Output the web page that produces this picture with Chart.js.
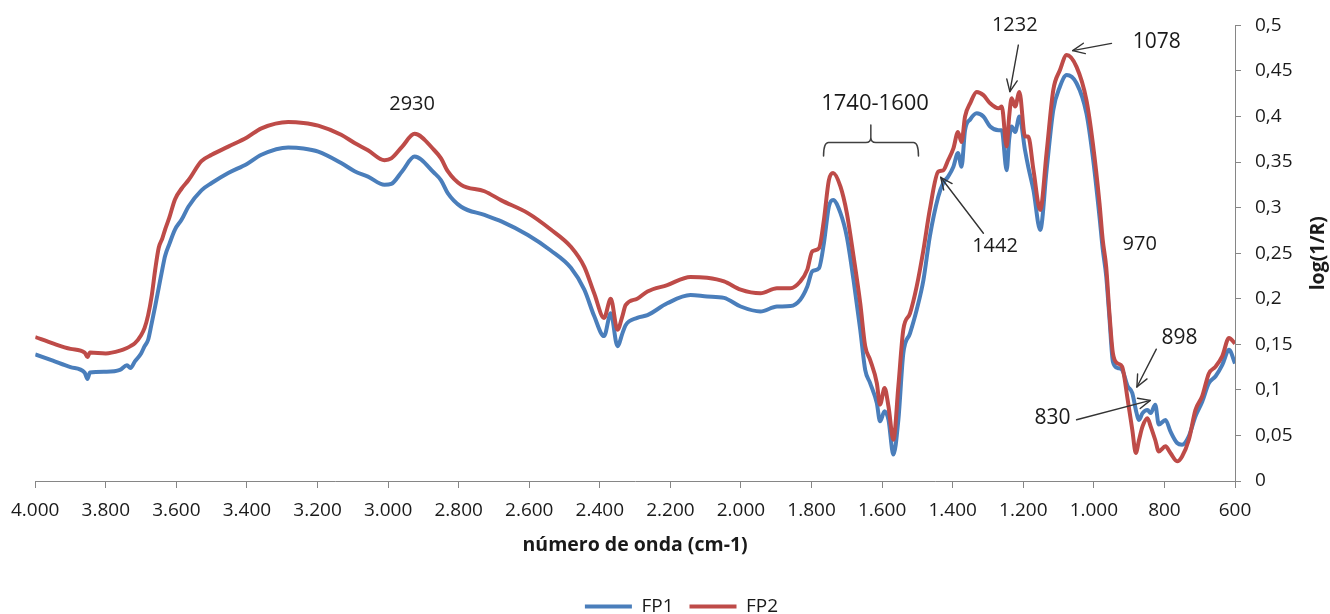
<!DOCTYPE html>
<html>
<head>
<meta charset="utf-8">
<script src="https://cdn.jsdelivr.net/npm/chart.js@4.4.1/dist/chart.umd.min.js"></script>
<style>
  html, body { margin: 0; padding: 0; background: #ffffff; }
  #wrap { width: 1330px; height: 614px; }
</style>
</head>
<body>
<div id="wrap"><canvas id="spectrum" width="1330" height="614"></canvas></div>
<script>
// Wavenumber grid (cm-1), shared by both spectra
const wavenumbers = [
  4000,3950,3900,3860,3852,3845,3800,3760,3740,3730,
  3718,3700,3690,3680,3670,3660,3650,3640,3632,3620,
  3604,3585,3566,3529,3500,3453,3400,3359,3283,3240,3198,
  3133,3095,3057,3010,2991,2960,2925,2869,2850,2831,
  2793,2727,2679,2604,2539,2482,2444,2416,2388,2369,
  2350,2336,2327,2294,2265,2209,2143,2096,2048,2001,
  1945,1898,1860,1832,1812,1798,1779,1765,1751,1739,
  1718,1700,1681,1662,1648,1634,1615,1606,1593,1582,
  1568,1554,1540,1521,1502,1483,1465,1441,1427,1413,
  1398,1385,1375,1365,1350,1332,1313,1294,1270,1261,
  1247,1240,1233,1223,1211,1195,1186,1171,1152,1134,
  1115,1096,1077,1049,1021,1003,984,975,965,956,
  946,932,920,904,891,881,872,862,848,839,
  826,816,797,783,764,750,731,712,693,674,
  655,636,617,600
];

// log(1/R) for sample FP1
const fp1 = [
  .139,.132,.125,.119,.112,.119,.120,.122,.127,.124,
  .131,.140,.148,.155,.173,.192,.212,.232,.247,.260,
  .276,.287,.301,.319,.327,.338,.348,.358,.366,.365,.3615,
  .349,.340,.334,.325,.326,.340,.356,.338,.330,.316,
  .301,.292,.285,.270,.253,.234,.210,.181,.159,.184,
  .148,.162,.171,.179,.182,.195,.204,.2025,.201,.1915,
  .186,.1915,.192,.199,.2135,.230,.2335,.261,.301,.3085,
  .294,.268,.2205,.166,.122,.1075,.0855,.0655,.0765,.067,
  .029,.067,.140,.162,.188,.2205,.268,.312,.327,.334,
  .345,.360,.345,.385,.397,.4035,.400,.389,.385,.385,
  .341,.375,.389,.383,.400,.363,.345,.319,.2755,.341,
  .407,.433,.4455,.4365,.4035,.356,.290,.255,.225,.180,
  .131,.124,.122,.104,.0965,.078,.067,.0745,.078,.0745,
  .0837,.062,.067,.0545,.0417,.0398,.049,.071,.087,.1075,
  .115,.1275,.144,.129
];

// log(1/R) for sample FP2
const fp2 = [
  .158,.151,.145,.141,.136,.141,.140,.143,.146,.148,
  .151,.160,.168,.182,.203,.232,.256,.266,.276,.289,
  .309,.321,.330,.351,.358,.367,.377,.387,.394,.393,.390,
  .380,.371,.363,.352,.354,.367,.381,.363,.354,.340,
  .325,.318,.308,.294,.276,.257,.235,.206,.179,.200,
  .166,.181,.193,.200,.208,.215,.224,.223,.219,.210,
  .206,.2115,.2115,.219,.232,.252,.2555,.2865,.330,.338,
  .323,.294,.2465,.195,.148,.133,.1075,.0837,.102,.082,
  .0453,.104,.166,.184,.2135,.2535,.2975,.3395,.341,.352,
  .365,.383,.372,.400,.415,.427,.4235,.4145,.409,.411,
  .367,.400,.420,.411,.427,.378,.378,.341,.2975,.360,
  .429,.451,.4675,.4545,.418,.371,.305,.265,.235,.185,
  .140,.129,.1255,.089,.056,.0307,.045,.060,.069,.060,
  .045,.0325,.038,.0307,.0216,.027,.045,.078,.093,.118,
  .1255,.137,.157,.151
];

// Band labels placed in data coordinates [wavenumber, log(1/R)]
const bandLabels = [
  { text: '2930',      at: [2932, 0.4134], size: 20 },
  { text: '1740-1600', at: [1620, 0.4145], size: 22 },
  { text: '1232',      at: [1224, 0.5000], size: 20 },
  { text: '1078',      at: [822,  0.4814], size: 21 },
  { text: '1442',      at: [1280, 0.2577], size: 20 },
  { text: '970',       at: [870,  0.2599], size: 20 },
  { text: '898',       at: [757,  0.1568], size: 21 },
  { text: '830',       at: [1117, 0.0691], size: 21 }
];

// Arrows from a label towards its band
const pointers = [
  { from: [1214, 0.4784], to: [1238, 0.4273] },
  { from: [950,  0.4803], to: [1060, 0.4723] },
  { from: [1313, 0.2719], to: [1434, 0.3333] },
  { from: [823,  0.1447], to: [878,  0.1031] },
  { from: [1049, 0.0672], to: [840,  0.0885] }
];

// Brace grouping the 1740-1600 region
const brace = { left: 1766, right: 1497, mid: 1632, foot: 0.3567, bar: 0.3714, tip: 0.3907 };

const fmtWavenumber = (v) => {
  if (v >= 1000) {
    const k = Math.floor(v / 1000);
    return k + '.' + String(v % 1000).padStart(3, '0');
  }
  return String(v);
};
const fmtDecimal = (v) => String(Number(v.toFixed(2))).replace('.', ',');

const FONT = '"Open Sans", "Liberation Sans", sans-serif';
const AXIS = '#868686';
const INK = '#1a1a1a';

const annotations = {
  id: 'spectrumNotes',
  afterDatasetsDraw(chart) {
    const { ctx, scales: { x, y }, chartArea } = chart;
    const px = (w) => x.getPixelForValue(w);
    const py = (v) => y.getPixelForValue(v);
    ctx.save();

    // band labels
    ctx.fillStyle = INK;
    ctx.textAlign = 'center';
    ctx.textBaseline = 'middle';
    bandLabels.forEach((l) => {
      ctx.font = l.size + 'px ' + FONT;
      ctx.fillText(l.text, px(l.at[0]), py(l.at[1]));
    });

    // arrows with open heads
    ctx.strokeStyle = '#333333';
    ctx.lineWidth = 1.4;
    ctx.lineCap = 'round';
    ctx.lineJoin = 'round';
    pointers.forEach((a) => {
      const x1 = px(a.from[0]), y1 = py(a.from[1]);
      const x2 = px(a.to[0]), y2 = py(a.to[1]);
      ctx.beginPath();
      ctx.moveTo(x1, y1);
      ctx.lineTo(x2, y2);
      ctx.stroke();
      const ang = Math.atan2(y2 - y1, x2 - x1);
      const len = 13, spread = 0.42;
      ctx.beginPath();
      ctx.moveTo(x2 - len * Math.cos(ang - spread), y2 - len * Math.sin(ang - spread));
      ctx.lineTo(x2, y2);
      ctx.lineTo(x2 - len * Math.cos(ang + spread), y2 - len * Math.sin(ang + spread));
      ctx.stroke();
    });

    // brace
    const bl = px(brace.left), br = px(brace.right), bm = px(brace.mid);
    const yf = py(brace.foot), yb = py(brace.bar), yt = py(brace.tip);
    ctx.strokeStyle = '#404040';
    ctx.lineWidth = 1.5;
    ctx.beginPath();
    ctx.moveTo(bl, yf);
    ctx.quadraticCurveTo(bl, yb, bl + 5, yb);
    ctx.lineTo(bm - 5, yb);
    ctx.quadraticCurveTo(bm, yb, bm, yb - 5);
    ctx.lineTo(bm, yt);
    ctx.moveTo(bm, yb - 5);
    ctx.quadraticCurveTo(bm, yb, bm + 5, yb);
    ctx.lineTo(br - 5, yb);
    ctx.quadraticCurveTo(br, yb, br, yf);
    ctx.stroke();

    // value axis title, reading upwards
    ctx.fillStyle = INK;
    ctx.font = 'bold 19.5px ' + FONT;
    ctx.translate(y.right - 12, (chartArea.top + chartArea.bottom) / 2);
    ctx.rotate(-Math.PI / 2);
    ctx.fillText('log(1/R)', 0, 0);
    ctx.restore();
  }
};

const series = (values) => wavenumbers.map((w, i) => ({ x: w, y: values[i] }));

new Chart(document.getElementById('spectrum'), {
  type: 'line',
  data: {
    datasets: [
      { label: 'FP1', data: series(fp1), borderColor: '#4A7EBB', backgroundColor: '#4A7EBB',
        borderWidth: 4, pointRadius: 0, cubicInterpolationMode: 'monotone', fill: false, order: 1,
        borderJoinStyle: 'round', pointStyle: 'line' },
      { label: 'FP2', data: series(fp2), borderColor: '#BE4B48', backgroundColor: '#BE4B48',
        borderWidth: 4, pointRadius: 0, cubicInterpolationMode: 'monotone', fill: false, order: 0,
        borderJoinStyle: 'round', pointStyle: 'line' }
    ]
  },
  options: {
    responsive: false,
    animation: false,
    events: [],
    layout: { padding: { left: 33, top: 22, right: 0, bottom: -12 } },
    scales: {
      x: {
        type: 'linear',
        reverse: true,
        min: 600,
        max: 4000,
        afterFit: (s) => { s.height = 100; },
        ticks: {
          stepSize: 200,
          color: INK,
          padding: 11,
          maxRotation: 0,
          autoSkip: false,
          font: { family: FONT, size: 19 },
          callback: (v) => fmtWavenumber(v)
        },
        grid: { drawOnChartArea: false, tickLength: 7, color: AXIS, lineWidth: 1 },
        border: { color: AXIS, width: 1 },
        title: {
          display: true,
          text: 'número de onda (cm-1)',
          color: INK,
          font: { family: FONT, size: 19.5, weight: 'bold' },
          padding: { top: 0, bottom: 24 }
        }
      },
      y: {
        position: 'right',
        min: 0,
        max: 0.5,
        afterFit: (s) => { s.width = 95; },
        ticks: {
          stepSize: 0.05,
          color: INK,
          padding: 14,
          font: { family: FONT, size: 19 },
          callback: (v) => fmtDecimal(v)
        },
        grid: { drawOnChartArea: false, tickLength: 6, color: AXIS, lineWidth: 1 },
        border: { color: AXIS, width: 1 }
      }
    },
    plugins: {
      tooltip: { enabled: false },
      legend: {
        position: 'bottom',
        labels: {
          color: INK,
          font: { family: FONT, size: 19 },
          usePointStyle: true,
          pointStyle: 'line',
          pointStyleWidth: 47,
          padding: 16,
          sort: (a, b) => a.datasetIndex - b.datasetIndex
        }
      }
    }
  },
  plugins: [annotations]
});
</script>
</body>
</html>
